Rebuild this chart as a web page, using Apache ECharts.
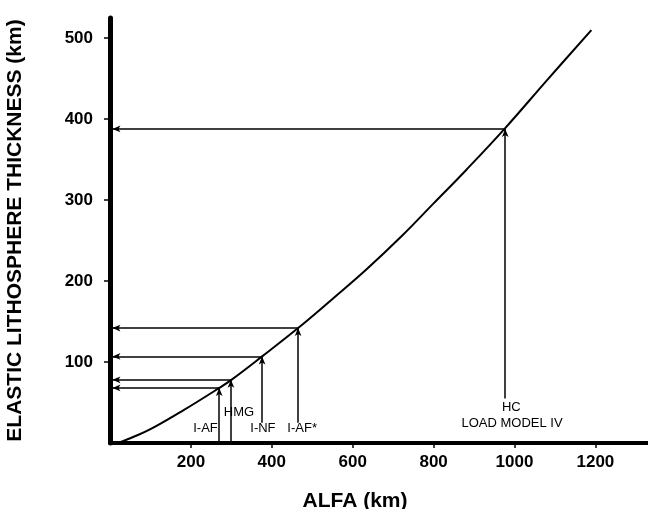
<!DOCTYPE html>
<html>
<head>
<meta charset="utf-8">
<script src="https://cdn.jsdelivr.net/npm/echarts@6/dist/echarts.min.js"></script>
<style>
  html, body { margin: 0; padding: 0; background: #fff; }
  #chart { width: 648px; height: 509px; }
</style>
</head>
<body>
<div id="chart"></div>
<script>
// curve: ALFA (km) vs elastic thickness (km)
var curveAlfa = [20, 60, 100, 180, 270, 300, 376, 465, 550, 633, 720, 800, 880, 977, 1080, 1190];
var curveThickness = [0, 8, 17, 40, 68, 78, 107, 142, 178, 214, 255, 296, 337, 389, 448, 510];

// models marked with arrows
var modelNames = ["I-AF", "HMG", "I-NF", "I-AF*", "HC"];
var modelAlfa = [270, 299, 376, 465, 977];
var modelThickness = [68, 78, 107, 142, 388];

var yTicks = [100, 200, 300, 400, 500];
var xTicks = [200, 400, 600, 800, 1000, 1200];

var chartDom = document.getElementById("chart");
var myChart = echarts.init(chartDom);

var font = "Liberation Sans, Arial, sans-serif";

// where each vertical arrow starts (above its label) and where the label sits
var lineFrom = [0, 0, 25, 25, 55];
var labelAt = [[236, 18], [319, 38], [378, 18], [475, 18], [992, 44]];

var arrows = [];
for (var i = 0; i < modelNames.length; i++) {
  arrows.push([{ coord: [modelAlfa[i], lineFrom[i]] }, { coord: [modelAlfa[i], modelThickness[i]] }]);
  arrows.push([{ coord: [modelAlfa[i], modelThickness[i]] }, { coord: [6, modelThickness[i]] }]);
}

var labels = [];
for (var j = 0; j < modelNames.length; j++) {
  labels.push({ name: modelNames[j], value: labelAt[j] });
}
labels.push({ name: "LOAD MODEL IV", value: [994, 24] });

var option = {
  animation: false,
  grid: { left: 110, right: 0, top: 18, bottom: 66, outerBoundsMode: "none" },
  xAxis: {
    type: "value",
    min: 0,
    max: 1330,
    name: "ALFA (km)",
    nameLocation: "middle",
    nameGap: 48,
    nameTextStyle: { fontFamily: font, fontSize: 21, fontWeight: "bold", color: "#000", padding: [0, 48, 0, 0] },
    axisLine: { lineStyle: { color: "#000", width: 4 } },
    axisTick: { show: true, customValues: xTicks, length: 5, lineStyle: { color: "#000", width: 1.5 } },
    axisLabel: {
      customValues: xTicks, margin: 11, fontFamily: font, fontSize: 17, fontWeight: "bold", color: "#000",
      formatter: function (v) { return String(v); }
    },
    splitLine: { show: false }
  },
  yAxis: {
    type: "value",
    min: 0,
    max: 525,
    name: "ELASTIC LITHOSPHERE THICKNESS (km)",
    nameLocation: "middle",
    nameGap: 84,
    nameTextStyle: { fontFamily: font, fontSize: 21, fontWeight: "bold", color: "#000" },
    axisLine: { show: true, lineStyle: { color: "#000", width: 5 } },
    axisTick: { show: true, customValues: yTicks, length: 6, lineStyle: { color: "#000", width: 1.5 } },
    axisLabel: { customValues: yTicks, margin: 17, fontFamily: font, fontSize: 17, fontWeight: "bold", color: "#000" },
    splitLine: { show: false }
  },
  series: [
    {
      type: "line",
      data: curveAlfa.map(function (a, k) { return [a, curveThickness[k]]; }),
      smooth: 0.4,
      showSymbol: false,
      lineStyle: { color: "#000", width: 2 },
      markLine: {
        silent: true,
        symbol: ["none", "arrow"],
        symbolSize: [5, 8],
        label: { show: false },
        lineStyle: { color: "#000", width: 1.5, type: "solid" },
        data: arrows
      }
    },
    {
      type: "scatter",
      symbolSize: 0,
      itemStyle: { opacity: 1 },
      data: labels,
      label: {
        show: true,
        position: "inside",
        formatter: "{b}",
        fontFamily: font,
        fontSize: 13,
        color: "#000",
        opacity: 1
      }
    }
  ]
};

myChart.setOption(option);
</script>
</body>
</html>
